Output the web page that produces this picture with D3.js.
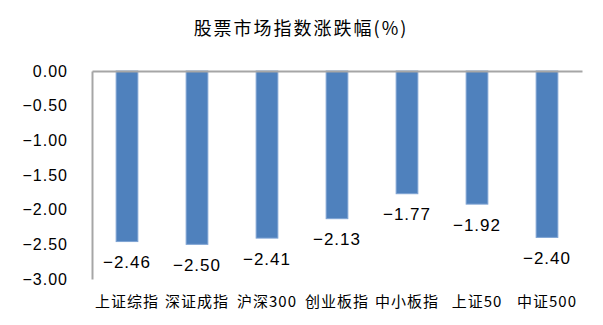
<!DOCTYPE html>
<html><head><meta charset="utf-8">
<script src="https://cdn.jsdelivr.net/npm/d3@7"></script>
<style>body{margin:0;background:#fff}</style>
</head><body>
<svg id="c" width="603" height="325"></svg>
<script>
const categories = ["上证综指","深证成指","沪深300","创业板指","中小板指","上证50","中证500"];
const values = [-2.46,-2.50,-2.41,-2.13,-1.77,-1.92,-2.40];
const yTicks = [0,-0.5,-1,-1.5,-2,-2.5,-3];
const title = "股票市场指数涨跌幅(%)";

const svg = d3.select("#c");
const x = d3.scaleBand().domain(categories).range([92,582]).paddingInner(0.69).paddingOuter(0.345);
const y = d3.scaleLinear().domain([-3,0]).range([279,71]);
const numFont = "'Liberation Sans', Arial, sans-serif";
const cjkFont = "'Noto Sans CJK SC', sans-serif";
const fmt = d3.format(".2f");

svg.append("text").attr("x",301).attr("y",27).attr("text-anchor","middle")
  .attr("dominant-baseline","central").style("font-family",cjkFont).style("font-size","18px")
  .style("letter-spacing","2px").attr("fill","#000").text(title);

// bars
svg.selectAll("rect.bar").data(values).enter().append("rect")
  .attr("class","bar")
  .attr("x",(d,i)=>x(categories[i]))
  .attr("y",y(0))
  .attr("width",x.bandwidth())
  .attr("height",d=>y(d)-y(0))
  .attr("fill","#4F81BD").attr("stroke","#7EA3D3").attr("stroke-width",1);

// y axis
const yAxis = d3.axisLeft(y).tickValues(yTicks).tickSize(0).tickPadding(24).tickFormat(fmt);
const gy = svg.append("g").attr("transform","translate(92,0)").call(yAxis);
gy.select(".domain").attr("stroke","#A6A6A6").attr("stroke-width",2);
gy.selectAll("text").style("font-family",numFont).style("font-size","16px")
  .style("letter-spacing","1px").attr("fill","#000");

// zero line
const xAxis = d3.axisTop(x).tickSize(0).tickFormat("");
const gx = svg.append("g").attr("transform",`translate(0,${y(0)})`).call(xAxis);
gx.select(".domain").attr("stroke","#A6A6A6").attr("stroke-width",2);

// category labels
svg.selectAll("text.cat").data(categories).enter().append("text")
  .attr("class","cat").attr("x",d=>x(d)+x.bandwidth()/2).attr("y",300)
  .attr("text-anchor","middle").attr("dominant-baseline","central")
  .style("font-family",cjkFont).style("font-size","15px").style("letter-spacing","1px")
  .attr("fill","#000").text(d=>d);

// data labels
svg.selectAll("text.val").data(values).enter().append("text")
  .attr("class","val").attr("x",(d,i)=>x(categories[i])+x.bandwidth()/2)
  .attr("y",d=>y(d)+21).attr("text-anchor","middle").attr("dominant-baseline","central")
  .style("font-family",numFont).style("font-size","17px").style("letter-spacing","1px")
  .attr("fill","#000").text(d=>fmt(d));
</script>
</body></html>
